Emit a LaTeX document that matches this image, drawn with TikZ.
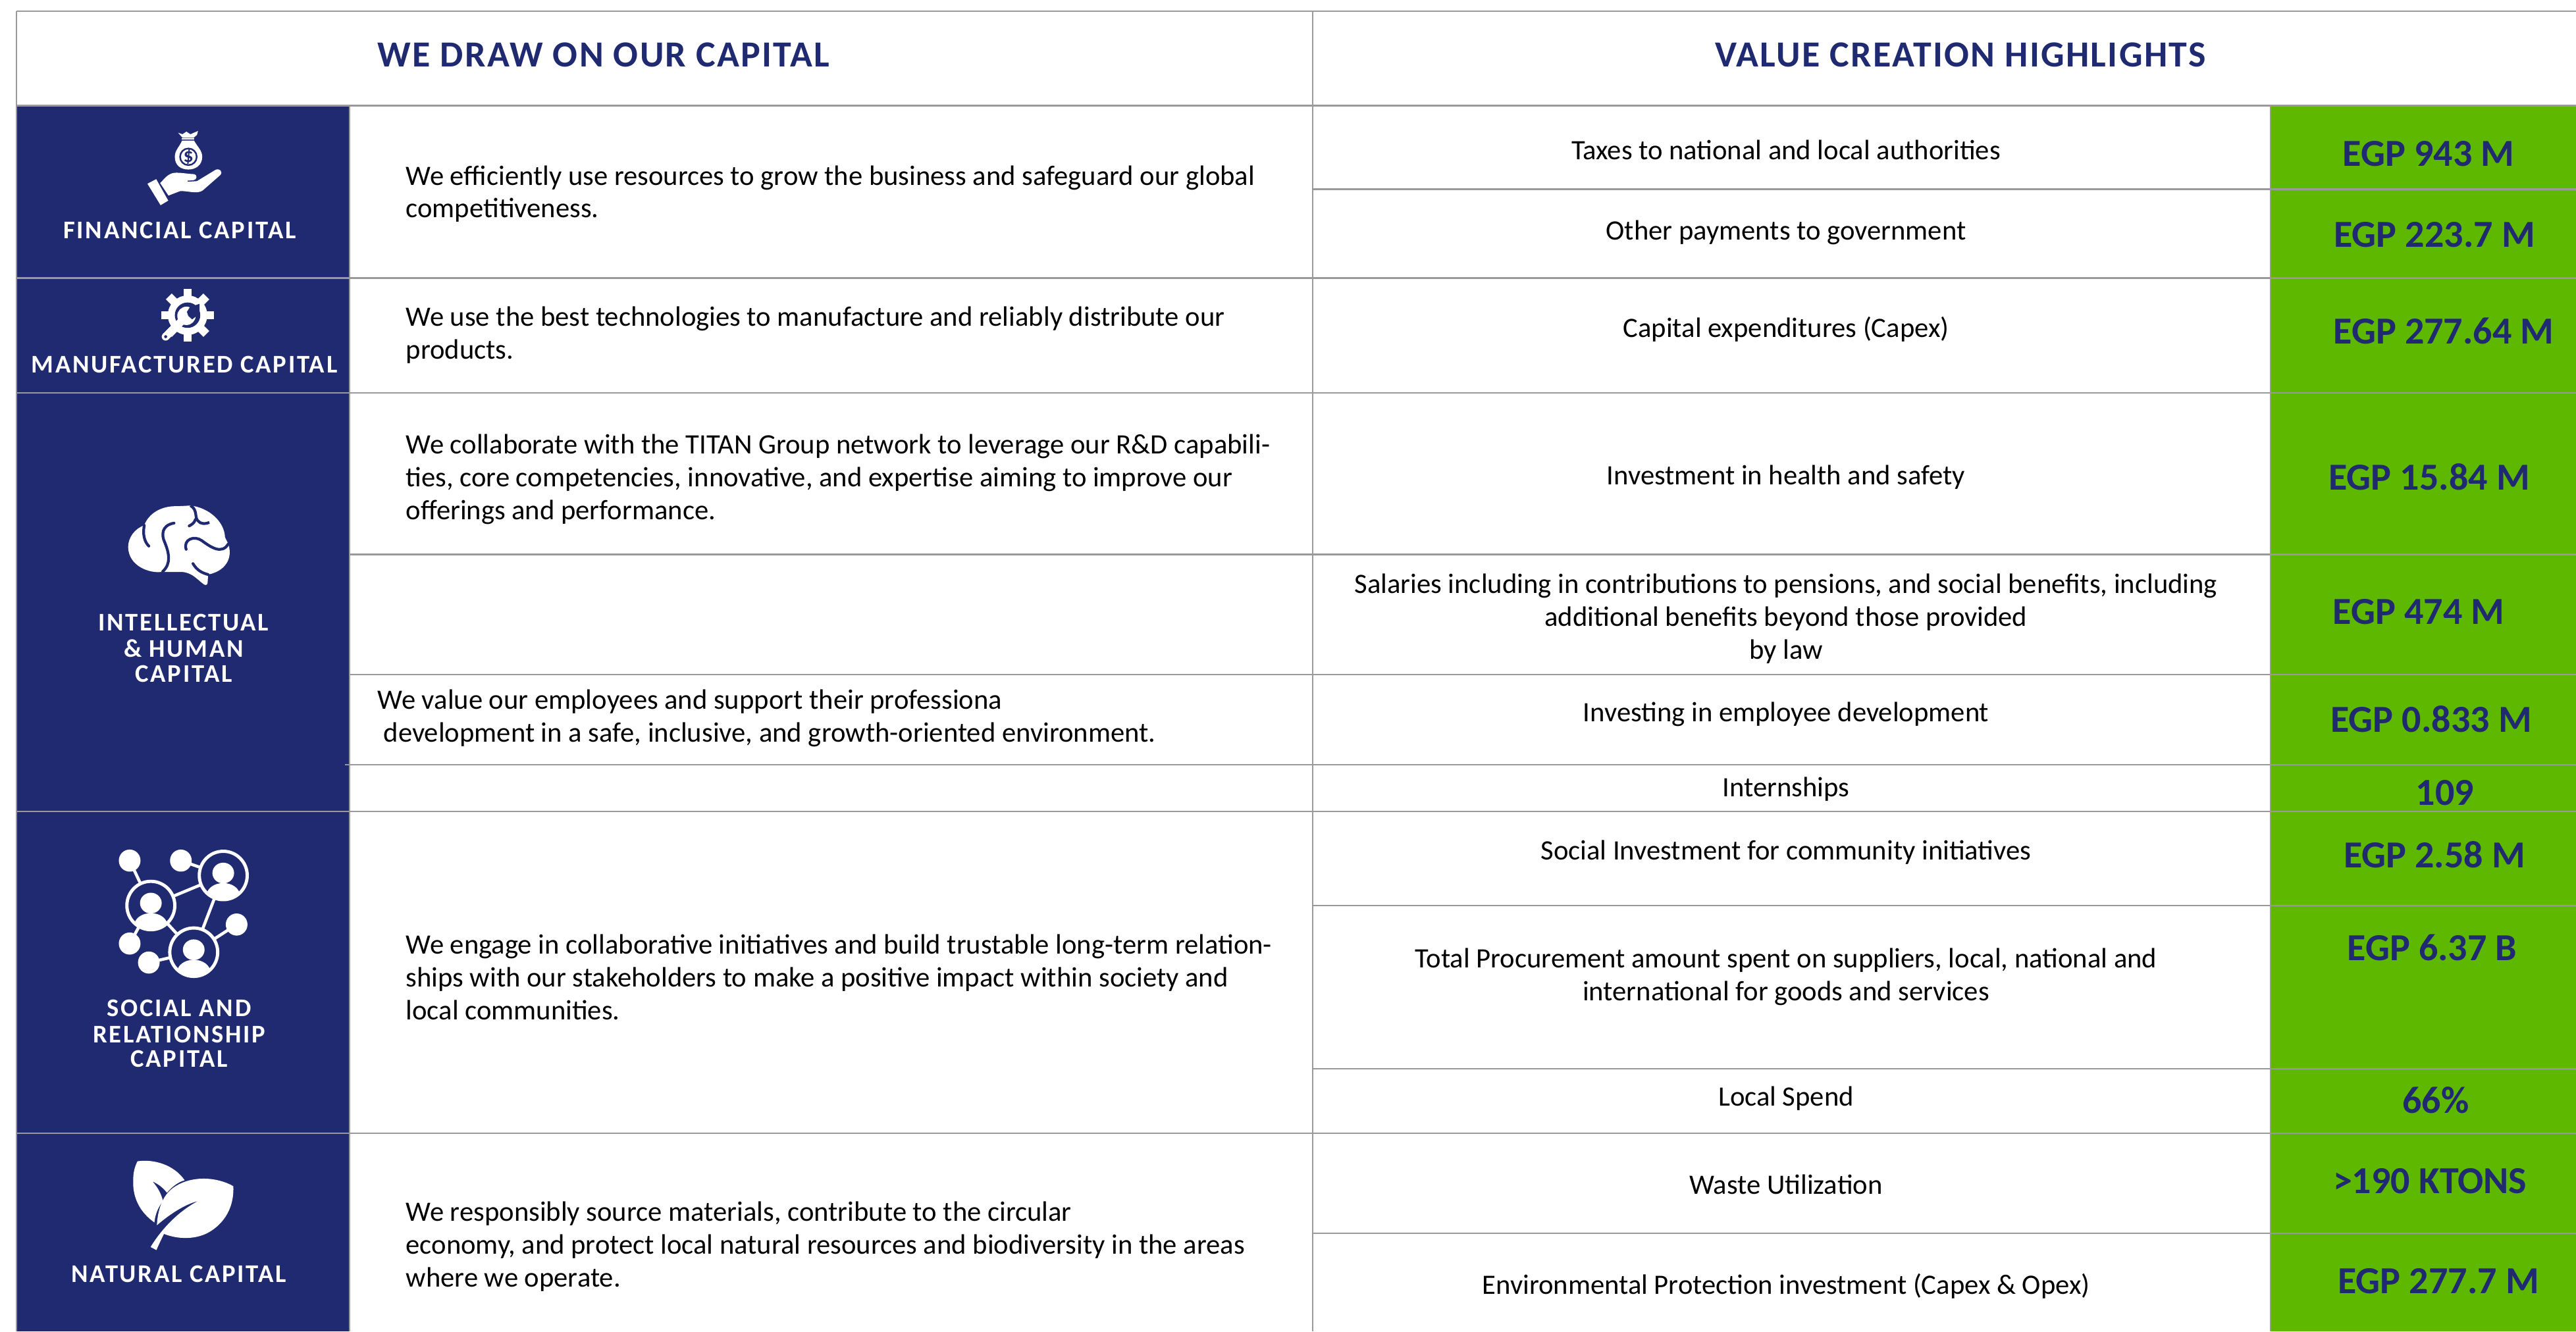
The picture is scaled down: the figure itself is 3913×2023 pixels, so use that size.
\documentclass[tikz,border=0pt]{standalone}
\usepackage{fontspec}
\usetikzlibrary{calc}
\setmainfont{Carlito}
\newfontfamily\lblfam[LetterSpace=7,BoldFont={Carlito Bold}]{Carlito}
\newfontfamily\headfam[LetterSpace=4.2,BoldFont={Carlito Bold}]{Carlito}
\definecolor{navy}{HTML}{1F2A70}
\definecolor{lime}{HTML}{5FB800}
\definecolor{rule}{HTML}{999999}
\tikzset{
  gridline/.style={draw=rule,line width=0.75pt},
  bodytxt/.style={anchor=base west,inner sep=0pt,text=black,font=\fontsize{12.12pt}{14pt}\selectfont},
  midtxt/.style={anchor=base,inner sep=0pt,text=black,font=\fontsize{12.12pt}{14pt}\selectfont},
  valtxt/.style={anchor=base,inner sep=0pt,text=navy,font=\fontsize{16.5pt}{18pt}\selectfont\bfseries},
  headtxt/.style={anchor=base,inner sep=0pt,text=navy,font=\headfam\fontsize{15.9pt}{18pt}\selectfont\bfseries},
  lbltxt/.style={anchor=base,inner sep=0pt,text=white,font=\lblfam\fontsize{11pt}{12pt}\selectfont\bfseries},
  netline/.style={draw=white,line width=1.3pt},
  sulcus/.style={draw=navy,line width=1.2pt,line cap=round}
}
\begin{document}
\begin{tikzpicture}[x=0.01cm,y=-0.01cm]
\useasboundingbox (0,0) rectangle (3913,2023);
\fill[white] (0,0) rectangle (3913,2023);
\fill[navy] (25,160) rectangle (531,2023);
\fill[lime] (3449,160) rectangle (3913,2023);
% grid
\draw[gridline] (25,17) -- (3913,17);
\draw[gridline] (25,160.5) -- (3913,160.5);
\draw[gridline] (1994,287.5) -- (3913,287.5);
\draw[gridline] (25,422.5) -- (3913,422.5);
\draw[gridline] (25,597) -- (3913,597);
\draw[gridline] (531,842.5) -- (3913,842.5);
\draw[gridline] (531,1025) -- (3913,1025);
\draw[gridline] (524,1162) -- (3913,1162);
\draw[gridline] (25,1233) -- (3913,1233);
\draw[gridline] (1994,1376) -- (3913,1376);
\draw[gridline] (1994,1624) -- (3913,1624);
\draw[gridline] (25,1722) -- (3913,1722);
\draw[gridline] (1994,1874) -- (3913,1874);
\draw[gridline] (25,17) -- (25,2023);
\draw[gridline] (531,160) -- (531,2023);
\draw[gridline] (1994,17) -- (1994,2023);
\draw[gridline] (3449,160) -- (3449,2023);
% headers
\node[headtxt] (h1) at (917,101) {WE DRAW ON OUR CAPITAL};
\node[headtxt] (h2) at (2978,101) {VALUE CREATION HIGHLIGHTS};
% left labels
\node[lbltxt] (l1) at (273,362) {FINANCIAL CAPITAL};
\node[lbltxt] (l2) at (280,566) {MANUFACTURED CAPITAL};
\node[lbltxt] (l3a) at (279,958) {INTELLECTUAL};
\node[lbltxt] (l3b) at (279,998) {\& HUMAN};
\node[lbltxt] (l3c) at (279,1036) {CAPITAL};
\node[lbltxt] (l4a) at (272,1544) {SOCIAL AND};
\node[lbltxt] (l4b) at (272,1584) {RELATIONSHIP};
\node[lbltxt] (l4c) at (272,1621) {CAPITAL};
\node[lbltxt] (l5) at (272,1948) {NATURAL CAPITAL};
% body text
\node[bodytxt] (b1a) at (616,281) {We efficiently use resources to grow the business and safeguard our global};
\node[bodytxt] (b1b) at (616,330) {competitiveness.};
\node[bodytxt] (b2a) at (616,495) {We use the best technologies to manufacture and reliably distribute our};
\node[bodytxt] (b2b) at (616,545) {products.};
\node[bodytxt] (b3a) at (616,689) {We collaborate with the TITAN Group network to leverage our R\&D capabili-};
\node[bodytxt] (b3b) at (616,739) {ties, core competencies, innovative, and expertise aiming to improve our};
\node[bodytxt] (b3c) at (616,789) {offerings and performance.};
\node[bodytxt] (b4a) at (573,1077) {We value our employees and support their professiona};
\node[bodytxt] (b4b) at (582,1127) {development in a safe, inclusive, and growth-oriented environment.};
\node[bodytxt] (b5a) at (616,1449) {We engage in collaborative initiatives and build trustable long-term relation-};
\node[bodytxt] (b5b) at (616,1499) {ships with our stakeholders to make a positive impact within society and};
\node[bodytxt] (b5c) at (616,1549) {local communities.};
\node[bodytxt] (b6a) at (616,1855) {We responsibly source materials, contribute to the circular};
\node[bodytxt] (b6b) at (616,1905) {economy, and protect local natural resources and biodiversity in the areas};
\node[bodytxt] (b6c) at (616,1955) {where we operate.};
% middle text
\node[midtxt] (m1) at (2713,242) {Taxes to national and local authorities};
\node[midtxt] (m2) at (2713,364) {Other payments to government};
\node[midtxt] (m3) at (2713,512) {Capital expenditures (Capex)};
\node[midtxt] (m4) at (2713,736) {Investment in health and safety};
\node[midtxt] (m5a) at (2713,901) {Salaries including in contributions to pensions, and social benefits, including};
\node[midtxt] (m5b) at (2713,951) {additional benefits beyond those provided};
\node[midtxt] (m5c) at (2713,1001) {by law};
\node[midtxt] (m6) at (2713,1096) {Investing in employee development};
\node[midtxt] (m7) at (2713,1210) {Internships};
\node[midtxt] (m8) at (2713,1306) {Social Investment for community initiatives};
\node[midtxt] (m9a) at (2713,1470) {Total Procurement amount spent on suppliers, local, national and};
\node[midtxt] (m9b) at (2713,1520) {international for goods and services};
\node[midtxt] (m10) at (2713,1680) {Local Spend};
\node[midtxt] (m11) at (2713,1814) {Waste Utilization};
\node[midtxt] (m12) at (2713,1966) {Environmental Protection investment (Capex \& Opex)};
% values
\node[valtxt] (v1) at (3689,252) {EGP 943 M};
\node[valtxt] (v2) at (3698,375) {EGP 223.7 M};
\node[valtxt] (v3) at (3712,522) {EGP 277.64 M};
\node[valtxt] (v4) at (3690,744) {EGP 15.84 M};
\node[valtxt] (v5) at (3674,948) {EGP 474 M};
\node[valtxt] (v6) at (3693,1112) {EGP 0.833 M};
\node[valtxt] (v7) at (3714,1223) {109};
\node[valtxt] (v8) at (3698,1318) {EGP 2.58 M};
\node[valtxt] (v9) at (3694.5,1459) {EGP 6.37 B};
\node[valtxt] (v10) at (3700,1691) {66\%};
\node[valtxt] (v11) at (3691,1813) {>190 KTONS};
\node[valtxt] (v12) at (3704,1965) {EGP 277.7 M};
% money icon
\begin{scope}[shift={(200,190)},x=0.003333cm,y=-0.003333cm]
\fill[white] (212,35) -- (232,42) -- (250,30) -- (268,42) -- (303,27) -- (298,45) -- (283,58) -- (232,58) -- cycle;
\fill[white] (229,61) rectangle (285,66);
\fill[white] (230,71) -- (285,71) .. controls (300,100) and (322,115) .. (322,145) .. controls (322,185) and (290,203) .. (259,203) .. controls (225,203) and (197,185) .. (197,145) .. controls (197,115) and (218,100) .. (230,71) -- cycle;
\draw[navy,line width=0.7pt] (259,145) circle (38);
\node[anchor=center,inner sep=0pt,text=navy,font=\fontsize{8.5pt}{9pt}\selectfont\bfseries] (dollar) at (259,145) {\$};
\fill[white] (72,268) -- (112,247) -- (167,345) -- (132,366) -- cycle;
\fill[white] (130,265) .. controls (150,245) and (165,222) .. (195,218) .. controls (225,216) and (260,224) .. (285,224) .. controls (300,226) and (300,250) .. (282,252) -- (255,254) -- (255,259) -- (298,256) -- (382,205) .. controls (400,195) and (418,212) .. (405,228) -- (325,298) .. controls (300,318) and (250,298) .. (220,302) -- (168,322) -- cycle;
\end{scope}
% gear icon
\begin{scope}[shift={(220,430)},x=0.003333cm,y=-0.003333cm]
\coordinate (gc) at (195,147);
\fill[white] (gc) circle (90);
\foreach \a in {0,45,...,315}{
  \fill[white,rotate around={\a:(gc)}] (176,147) rectangle (214,26);
}
\fill[navy] (gc) circle (58);
\draw[navy,line width=2.6pt,line cap=round] (95,245) -- (170,172);
\fill[white] (190,150) circle (42);
\draw[white,line width=3.4pt,line cap=round] (95,245) -- (170,172);
\fill[navy] (95,245) circle (7);
\fill[navy] (192,132) -- (206,110) -- (250,95) -- (250,140) -- (237,150) -- (216,166) -- (198,150) -- cycle;
\end{scope}
% brain icon
\begin{scope}[shift={(0,680)},x=0.003827cm,y=-0.003333cm]
\fill[white] (572,355) .. controls (590,300) and (640,265) .. (705,268) -- (755,265) .. controls (830,275) and (890,340) .. (892,410) -- (905,440) .. controls (925,510) and (890,565) .. (825,580) -- (823,618) .. controls (822,630) and (812,630) .. (805,622) .. controls (780,600) and (760,570) .. (720,568) -- (640,568) .. controls (590,575) and (510,540) .. (508,455) .. controls (508,410) and (535,370) .. (572,355) -- cycle;
\draw[sulcus,line cap=butt] (755,265) .. controls (785,285) and (770,320) .. (785,335) .. controls (795,350) and (815,350) .. (830,342);
\draw[sulcus] (775,328) .. controls (770,345) and (760,352) .. (750,358);
\draw[sulcus] (572,355) .. controls (565,395) and (572,430) .. (590,450);
\draw[sulcus] (690,345) .. controls (640,355) and (640,400) .. (652,430) .. controls (670,480) and (680,530) .. (645,566);
\draw[sulcus] (738,465) .. controls (725,420) and (770,400) .. (800,425) .. controls (835,455) and (880,490) .. (905,440);
\draw[sulcus] (765,530) .. controls (780,560) and (800,572) .. (825,580);
\end{scope}
% network icon
\begin{scope}[shift={(0,1200)},x=0.003827cm,y=-0.00525cm]
\coordinate (pa) at (598,335);
\coordinate (pb) at (885,248);
\coordinate (pc) at (768,470);
\coordinate (d1) at (514,205);
\coordinate (d2) at (717,205);
\coordinate (d3) at (938,390);
\coordinate (d4) at (514,445);
\coordinate (d5) at (590,500);
\draw[netline] (d1) -- (pa);
\draw[netline] (d2) -- (pb);
\draw[netline] (d3) -- (pc);
\draw[netline] (d4) -- (pa);
\draw[netline] (d5) -- (pc);
\draw[netline] (pa) -- (pb);
\draw[netline] (pa) -- (pc);
\draw[netline] (pb) -- (pc);
\foreach \p in {pa,pb,pc}{
  \begin{scope}
  \clip (\p) ellipse [x radius=95,y radius=70];
  \fill[navy] (\p) ellipse [x radius=95,y radius=70];
  \fill[white] ($(\p)+(0,-7)$) ellipse [x radius=43,y radius=30];
  \fill[white] ($(\p)+(0,58)$) ellipse [x radius=66,y radius=36];
  \end{scope}
  \draw[white,line width=1.4pt] (\p) ellipse [x radius=95,y radius=70];
}
\foreach \p in {d1,d2,d3,d4,d5}{
  \fill[white] (\p) ellipse [x radius=43,y radius=32];
}
\end{scope}
% leaf icon
\begin{scope}[shift={(0,1200)},x=0.003827cm,y=-0.00525cm]
\fill[white] (545,1075) .. controls (610,1068) and (690,1085) .. (732,1130) .. controls (705,1135) and (680,1150) .. (662,1166) .. controls (645,1150) and (625,1140) .. (604,1133) .. controls (625,1150) and (640,1170) .. (646,1190) .. controls (625,1210) and (615,1230) .. (612,1252) .. controls (560,1225) and (525,1185) .. (528,1130) .. controls (528,1105) and (535,1090) .. (545,1075) -- cycle;
\fill[white] (925,1147) .. controls (860,1120) and (760,1115) .. (690,1150) .. controls (640,1175) and (625,1220) .. (622,1260) .. controls (670,1230) and (730,1200) .. (785,1190) .. controls (720,1215) and (650,1260) .. (597,1323) -- (620,1332) .. controls (630,1315) and (640,1300) .. (650,1285) .. controls (700,1300) and (780,1305) .. (840,1275) .. controls (900,1245) and (928,1200) .. (925,1147) -- cycle;
\end{scope}
\end{tikzpicture}
\end{document}
